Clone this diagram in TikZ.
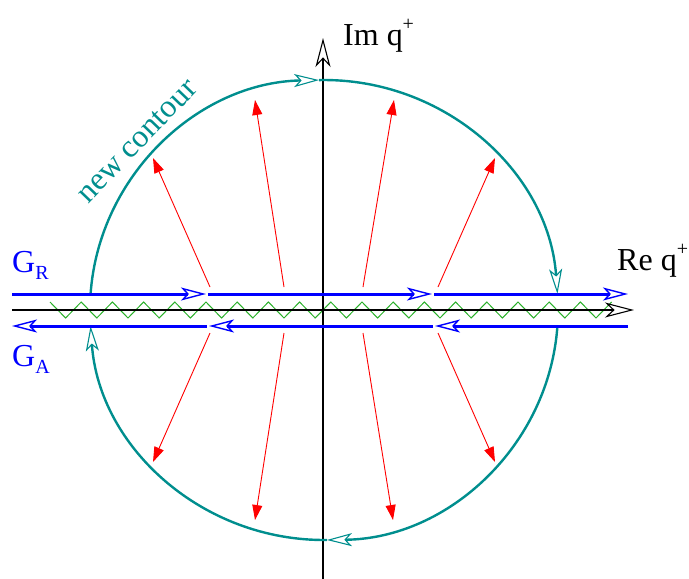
\documentclass[tikz,border=0pt]{standalone}
\usepackage{fontspec}
\setmainfont{Liberation Serif}
\usetikzlibrary{arrows.meta}
\definecolor{ctr}{RGB}{0,142,142}
\definecolor{zig}{RGB}{40,175,40}
\newcommand{\bigfont}{\fontsize{32}{36}\selectfont}
\newcommand{\subR}[1]{\raisebox{-7pt}{\fontsize{20}{20}\selectfont #1}}
\newcommand{\supP}{\raisebox{15pt}{\fontsize{20}{20}\selectfont +}}
\begin{document}
\begin{tikzpicture}[x=1pt,y=-1pt,
  lbl/.style={font=\bigfont, inner sep=0pt, anchor=base west},
  gline/.style={blue, line width=3pt, -{Stealth[open, length=25pt, width=13pt, inset=6pt, line width=1.4pt 0]}},
  axis/.style={black, line width=1.3pt, -{Stealth[open, length=29pt, width=15pt, inset=8pt, line width=1.1pt 0]}},
  ctrarrow/.style={ctr, line width=2.4pt, -{Stealth[open, length=25pt, width=13pt, inset=6pt, line width=1.1pt 0]}},
  redarrow/.style={red, line width=0.9pt, -{Triangle[length=15pt, width=10pt]}},
  zigline/.style={zig, line width=1pt}
]
\useasboundingbox (0,0) rectangle (689,579);
% coordinates
\coordinate (O) at (324,310);
\coordinate (xL) at (12,310);
\coordinate (xR) at (634,310);
\coordinate (yB) at (323,579);
\coordinate (yT) at (323,38);
% zigzag
\draw[zigline] (50,302) \foreach \i in {1,...,36}{ -- ({50+15.6*\i},{310-8*cos(180*\i)}) };
% axes
\draw[axis] (xL) -- (xR);
\draw[axis] (yB) -- (yT);
% contour (angles measured with y pointing down)
\draw[ctrarrow] ([shift={(184:234 and 230)}]O) arc[start angle=184, end angle=268.8, x radius=234, y radius=230];
\draw[ctrarrow] ([shift={(268.8:234 and 230)}]O) arc[start angle=268.8, end angle=356, x radius=234, y radius=230];
\draw[ctrarrow] ([shift={(4:234 and 230)}]O) arc[start angle=4, end angle=89.3, x radius=234, y radius=230];
\draw[ctrarrow] ([shift={(89.3:234 and 230)}]O) arc[start angle=89.3, end angle=176, x radius=234, y radius=230];
% G_R
\coordinate (r0) at (12,294); \coordinate (r1) at (206,294); \coordinate (r2) at (208,294);
\coordinate (r3) at (432,294); \coordinate (r4) at (434,294); \coordinate (r5) at (628,294);
\draw[gline] (r0) -- (r1);
\draw[gline] (r2) -- (r3);
\draw[gline] (r4) -- (r5);
% G_A
\coordinate (a0) at (12,326); \coordinate (a1) at (207,326); \coordinate (a2) at (209,326);
\coordinate (a3) at (433,326); \coordinate (a4) at (435,326); \coordinate (a5) at (628,326);
\draw[gline] (a1) -- (a0);
\draw[gline] (a3) -- (a2);
\draw[gline] (a5) -- (a4);
% red arrows
\foreach \tx/\ty/\hx/\hy [count=\k] in {210/287/153/158, 284/287/255/100, 363/287/394/100, 438/287/495/158,
  210/333/153/462, 284/333/255/520, 363/333/393/520, 438/333/495/462}{
  \coordinate (t\k) at (\tx,\ty);
  \coordinate (h\k) at (\hx,\hy);
  \draw[redarrow] (t\k) -- (h\k);
}
% labels
\node[lbl] (im) at (343,45) {Im q\supP};
\node[lbl] (re) at (617,270) {Re q\supP};
\node[lbl, text=blue] (gr) at (12,272) {G\subR{R}};
\node[lbl, text=blue] (ga) at (12,366) {G\subR{A}};
\node[font=\bigfont, text=ctr, inner sep=0pt, rotate=46] (nc) at (137,141) {new contour};
\end{tikzpicture}
\end{document}
